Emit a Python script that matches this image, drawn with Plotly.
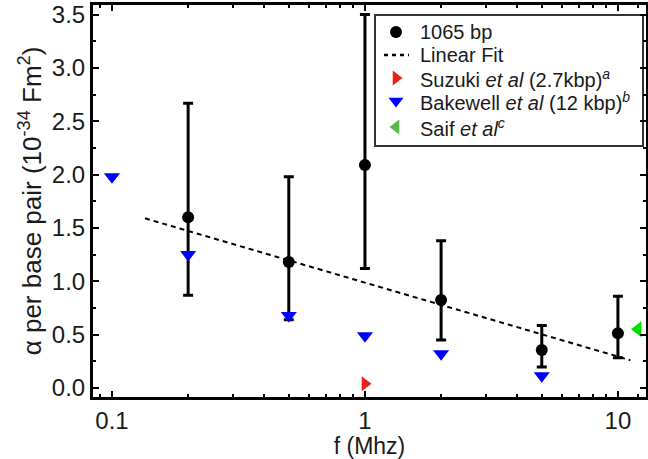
import plotly.graph_objects as go

# 1065 bp measurements
freq = [0.2, 0.5, 1, 2, 5, 10]
alpha = [1.60, 1.18, 2.09, 0.825, 0.355, 0.513]
err_up = [1.07, 0.80, 1.41, 0.555, 0.23, 0.347]
err_down = [0.73, 0.54, 0.97, 0.375, 0.158, 0.229]

# linear fit (in log f)
fit_f = [0.135, 11.2]
fit_alpha = [1.59, 0.26]

# Suzuki et al
suzuki_f = [1]
suzuki_alpha = [0.04]

# Bakewell et al
bake_f = [0.1, 0.2, 0.5, 1, 2, 5]
bake_alpha = [1.98, 1.25, 0.68, 0.49, 0.32, 0.115]

# Saif et al
saif_f = [12]
saif_alpha = [0.55]

# legend labels
legend_labels = [
    "1065 bp",
    "Linear Fit",
    "Suzuki <i>et al</i> (2.7kbp)<sup><i>a</i></sup>",
    "Bakewell <i>et al</i> (12 kbp)<sup><i>b</i></sup>",
    "Saif <i>et al</i><sup><i>c</i></sup>",
]

FONT = "Liberation Sans, Arial, sans-serif"
TXT = "#1a1a1a"

fig = go.Figure()
fig.add_trace(go.Scatter(
    x=freq, y=alpha, mode="markers", name=legend_labels[0], showlegend=False,
    marker=dict(color="black", size=12),
    error_y=dict(type="data", symmetric=False, array=err_up, arrayminus=err_down,
                 color="black", thickness=3, width=5),
))
fig.add_trace(go.Scatter(
    x=fit_f, y=fit_alpha, mode="lines", name=legend_labels[1], showlegend=False,
    line=dict(color="black", width=2, dash="5px,4px"),
))
fig.add_trace(go.Scatter(
    x=suzuki_f, y=suzuki_alpha, mode="markers", name=legend_labels[2], showlegend=False,
    marker=dict(color="#e8231c", size=13, symbol="triangle-right"),
))
fig.add_trace(go.Scatter(
    x=bake_f, y=bake_alpha, mode="markers", name=legend_labels[3], showlegend=False,
    marker=dict(color="#0000ff", size=14, symbol="triangle-down"),
))
fig.add_trace(go.Scatter(
    x=saif_f, y=saif_alpha, mode="markers", name=legend_labels[4], showlegend=False,
    marker=dict(color="#00e000", size=14, symbol="triangle-left"),
))

# ---- hand-built legend (overlay axes spanning the plot area, 0..1) ----
L, R, T, B = 93, 2, 5, 62
W, H = 648, 459
pw, ph = W - L - R, H - T - B


def px(x):
    return (x - L) / pw


def py(y):
    return 1 - (y - T) / ph


row_y = [py(v) for v in (32, 55, 78, 101, 127)]
sym_x = px(396)
text_x = px(418)

fig.add_shape(type="rect", xref="paper", yref="paper",
              x0=px(375), x1=px(643), y0=py(146), y1=py(15),
              line=dict(color="#333333", width=2), fillcolor="white", layer="below")

legend_sym = [
    dict(color="black", size=12, symbol="circle"),
    None,
    dict(color="#e8231c", size=13, symbol="triangle-right"),
    dict(color="#0000ff", size=13, symbol="triangle-down"),
    dict(color="#5ab946", size=13, symbol="triangle-left"),
]
for i, m in enumerate(legend_sym):
    if m is None:
        fig.add_trace(go.Scatter(
            x=[px(384), px(409)], y=[row_y[i], row_y[i]], mode="lines",
            xaxis="x2", yaxis="y2", showlegend=False, hoverinfo="skip",
            line=dict(color="black", width=2.5, dash="4px,4px"),
        ))
    else:
        fig.add_trace(go.Scatter(
            x=[sym_x], y=[row_y[i]], mode="markers",
            xaxis="x2", yaxis="y2", showlegend=False, hoverinfo="skip",
            marker=m,
        ))
    fig.add_annotation(
        x=text_x, y=row_y[i], xref="paper", yref="paper",
        text=legend_labels[i], showarrow=False, xanchor="left", yanchor="middle",
        font=dict(family=FONT, size=20, color=TXT),
    )

axis_common = dict(
    showline=True, linecolor="black", linewidth=3, mirror="ticks",
    ticks="inside", ticklen=6, tickwidth=2, tickcolor="black",
    showgrid=False, zeroline=False,
    tickfont=dict(family=FONT, size=24, color=TXT),
)

fig.update_layout(
    width=W, height=H,
    margin=dict(l=L, r=R, t=T, b=B, autoexpand=False),
    paper_bgcolor="white", plot_bgcolor="white",
    font=dict(family=FONT, size=20, color=TXT),
    showlegend=False,
    xaxis=dict(
        type="log", range=[-1.075, 1.111],
        tickvals=[0.1, 1, 10], ticktext=["0.1", "1", "10"],
        minor=dict(ticks="inside", ticklen=3, tickwidth=2, tickcolor="black",
                   tickvals=[0.09, 0.2, 0.3, 0.4, 0.5, 0.6, 0.7, 0.8, 0.9,
                             2, 3, 4, 5, 6, 7, 8, 9, 12]),
        title=dict(text="f (Mhz)", standoff=0, font=dict(family=FONT, size=23)),
        **axis_common,
    ),
    yaxis=dict(
        range=[-0.085, 3.59], tickvals=[0, 0.5, 1, 1.5, 2, 2.5, 3, 3.5],
        tickformat=".1f",
        minor=dict(ticks="inside", ticklen=3, tickwidth=2, tickcolor="black",
                   dtick=0.25, tick0=0),
        title=dict(text="α per base pair (10<sup>-34</sup> Fm<sup>2</sup>)",
                   standoff=3, font=dict(family=FONT, size=26)),
        **axis_common,
    ),
    xaxis2=dict(overlaying="x", range=[0, 1], visible=False, fixedrange=True),
    yaxis2=dict(overlaying="y", range=[0, 1], visible=False, fixedrange=True),
)

fig.write_html("out.html")
